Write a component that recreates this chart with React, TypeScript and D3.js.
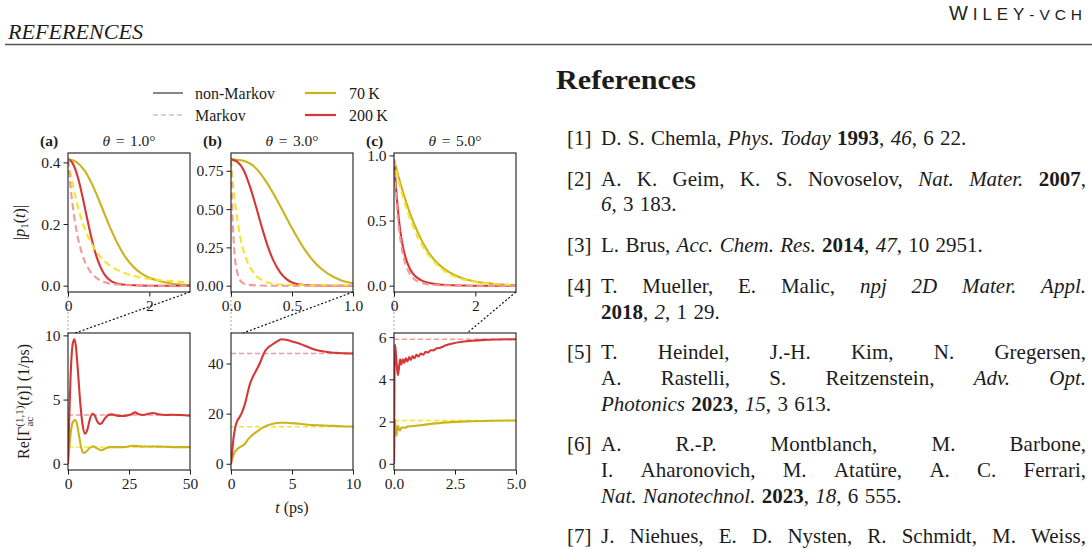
import React, { useRef, useEffect } from "react";
import * as d3 from "d3";

type Pt = [number, number];

// |p1(t)|, t in ps — non-Markov and Markov (M) for 70 K and 200 K
const pop70A: Pt[] = [[0, 0.41], [0.2, 0.402], [0.4, 0.375], [0.6, 0.327], [0.8, 0.265], [1.0, 0.2], [1.2, 0.142], [1.4, 0.095], [1.6, 0.062], [1.8, 0.04], [2.0, 0.026], [2.25, 0.015], [2.5, 0.008], [2.75, 0.004], [3, 0.002]];
const pop70AM: Pt[] = [[0, 0.41], [0.1, 0.34], [0.2, 0.278], [0.35, 0.207], [0.5, 0.157], [0.7, 0.11], [0.9, 0.079], [1.2, 0.052], [1.5, 0.036], [2.0, 0.022], [2.5, 0.015], [3.0, 0.011]];
const pop200A: Pt[] = [[0, 0.41], [0.1, 0.4], [0.2, 0.37], [0.3, 0.322], [0.4, 0.262], [0.5, 0.2], [0.6, 0.142], [0.7, 0.095], [0.8, 0.06], [0.9, 0.036], [1.0, 0.021], [1.2, 0.007], [1.5, 0.002], [2, 0], [3, 0]];
const pop200AM: Pt[] = [[0, 0.41], [0.1, 0.275], [0.2, 0.185], [0.3, 0.124], [0.4, 0.083], [0.5, 0.056], [0.6, 0.037], [0.8, 0.017], [1.0, 0.008], [1.3, 0.003], [1.6, 0.001], [2, 0], [3, 0]];

const pop70B: Pt[] = [[0, 0.825], [0.1, 0.815], [0.2, 0.77], [0.3, 0.665], [0.4, 0.525], [0.5, 0.375], [0.6, 0.24], [0.7, 0.14], [0.8, 0.075], [0.9, 0.036], [1.0, 0.016]];
const pop70BM: Pt[] = [[0, 0.825], [0.02, 0.64], [0.04, 0.5], [0.06, 0.39], [0.08, 0.3], [0.1, 0.235], [0.13, 0.165], [0.16, 0.115], [0.2, 0.07], [0.25, 0.038], [0.3, 0.02], [0.4, 0.008], [0.6, 0.003], [1.0, 0.001]];
const pop200B: Pt[] = [[0, 0.825], [0.05, 0.81], [0.1, 0.76], [0.15, 0.66], [0.2, 0.53], [0.25, 0.39], [0.3, 0.26], [0.35, 0.16], [0.4, 0.09], [0.45, 0.046], [0.5, 0.021], [0.6, 0.004], [0.8, 0], [1, 0]];
const pop200BM: Pt[] = [[0, 0.825], [0.01, 0.5], [0.02, 0.32], [0.03, 0.2], [0.045, 0.11], [0.06, 0.06], [0.08, 0.03], [0.1, 0.016], [0.13, 0.007], [0.2, 0.002], [0.3, 0], [1, 0]];

const pop70C: Pt[] = [[0, 0.97], [0.1, 0.85], [0.2, 0.74], [0.4, 0.55], [0.6, 0.4], [0.8, 0.28], [1.0, 0.195], [1.25, 0.125], [1.5, 0.08], [1.75, 0.05], [2.0, 0.032], [2.5, 0.013], [3.0, 0.005]];
const pop70CM: Pt[] = [[0, 0.97], [0.1, 0.82], [0.2, 0.7], [0.3, 0.6], [0.5, 0.43], [0.75, 0.28], [1.0, 0.18], [1.3, 0.1], [1.6, 0.058], [2.0, 0.028], [2.5, 0.011], [3.0, 0.004]];
const pop200C: Pt[] = [[0, 0.97], [0.05, 0.75], [0.1, 0.57], [0.15, 0.43], [0.2, 0.33], [0.3, 0.2], [0.4, 0.125], [0.5, 0.08], [0.65, 0.045], [0.8, 0.026], [1.0, 0.013], [1.3, 0.005], [1.7, 0.0015], [2.2, 0], [3, 0]];
const pop200CM: Pt[] = [[0, 0.97], [0.05, 0.7], [0.1, 0.5], [0.15, 0.37], [0.2, 0.27], [0.3, 0.15], [0.4, 0.085], [0.5, 0.05], [0.65, 0.025], [0.8, 0.012], [1.0, 0.005], [1.3, 0.0015], [1.7, 0], [3, 0]];

// Re Γ_ac^(1,1)(t) in 1/ps, non-Markov
const rate70A: Pt[] = [[0, 0], [0.5, 1.2], [1, 2.2], [1.5, 2.9], [2, 3.25], [2.9, 3.4], [3.8, 3.0], [4.5, 2.2], [5.5, 1.2], [6.4, 0.85], [7.5, 0.95], [9, 1.25], [10.4, 1.37], [11.5, 1.25], [13.5, 1.05], [15, 1.15], [17, 1.3], [20, 1.3], [23, 1.3], [26.5, 1.4], [30, 1.35], [35, 1.35], [40, 1.32], [45, 1.3], [50, 1.3]];
const rate200A: Pt[] = [[0, 0], [0.5, 3.5], [1, 6.5], [1.5, 8.5], [2, 9.4], [2.6, 9.7], [3.2, 9.2], [4, 7.4], [5, 4.8], [6, 3.0], [7, 2.35], [8, 2.7], [9, 3.5], [10, 3.9], [11, 3.75], [12, 3.3], [13, 3.1], [14, 3.2], [15, 3.5], [16.5, 3.8], [18, 3.85], [20, 3.75], [22, 3.72], [24, 3.75], [26, 3.85], [27.5, 4.0], [29, 3.85], [31, 3.8], [33, 3.9], [35, 3.95], [37, 3.85], [40, 3.8], [43, 3.82], [46, 3.8], [50, 3.75]];
const rate70B: Pt[] = [[0, 0], [0.15, 2.8], [0.3, 4.6], [0.5, 5.8], [0.72, 6.6], [0.95, 7.2], [1.13, 7.9], [1.4, 9.7], [1.68, 11.2], [1.95, 12.2], [2.23, 13.2], [2.6, 14.4], [2.92, 15.2], [3.4, 15.9], [4.0, 16.4], [4.5, 16.4], [5.0, 16.2], [5.6, 16.0], [6.3, 15.6], [7.05, 15.35], [8, 15.2], [9, 15.0], [10, 14.9]];
const rate200B: Pt[] = [[0, 0], [0.1, 5], [0.2, 10], [0.35, 14.5], [0.5, 17], [0.7, 18.6], [0.9, 20.5], [1.13, 23.7], [1.35, 28], [1.55, 31.8], [1.8, 34.8], [2.0, 36.6], [2.2, 38.5], [2.4, 40.5], [2.6, 43], [2.8, 45], [3.0, 46.2], [3.3, 47.3], [3.7, 48.6], [4.15, 49.7], [4.6, 49.4], [5.0, 48.8], [5.4, 48.3], [6.0, 47.2], [6.5, 46.2], [7.0, 45.4], [7.6, 44.8], [8.2, 44.4], [8.8, 44.2], [9.4, 44.05], [10, 44]];
const rate70C: Pt[] = [[0, 0], [0.02, 1.5], [0.04, 2.1], [0.07, 1.6], [0.1, 1.33], [0.14, 1.7], [0.17, 1.8], [0.21, 1.6], [0.25, 1.58], [0.3, 1.7], [0.37, 1.73], [0.45, 1.7], [0.55, 1.76], [0.7, 1.78], [0.9, 1.8], [1.2, 1.84], [1.6, 1.9], [2.2, 1.96], [3.0, 2.01], [4.0, 2.04], [5, 2.05]];
const rate200C: Pt[] = [[0, 0], [0.015, 3.2], [0.04, 5.65], [0.08, 5.2], [0.12, 4.6], [0.16, 4.2], [0.2, 4.5], [0.25, 4.95], [0.3, 4.7], [0.36, 4.95], [0.42, 4.78], [0.48, 5.0], [0.55, 4.85], [0.62, 5.05], [0.69, 4.92], [0.76, 5.1], [0.84, 5.0], [0.92, 5.16], [1.0, 5.08], [1.1, 5.22], [1.2, 5.17], [1.3, 5.3], [1.4, 5.27], [1.5, 5.38], [1.6, 5.37], [1.75, 5.47], [1.9, 5.5], [2.1, 5.6], [2.4, 5.7], [2.8, 5.78], [3.2, 5.83], [3.7, 5.87], [4.3, 5.89], [5, 5.9]];

// Markov rates are constant in time
const rateMarkov70 = [1.3, 14.8, 2.05];
const rateMarkov200 = [3.8, 44.0, 5.9];

const panelTags = ["(a)", "(b)", "(c)"];
const thetas = ["1.0", "3.0", "5.0"];
const popXMax = [3, 1, 3];
const popXTicks = [[0, 2], [0, 0.5, 1], [0, 2]];
const popXFormat = ["d", ".1f", "d"];
const popYTicks = [[0, 0.2, 0.4], [0, 0.25, 0.5, 0.75], [0, 0.5, 1]];
const popYFormat = [".1f", ".2f", ".1f"];
const rateXMax = [50, 10, 5];
const rateXTicks = [[0, 25, 50], [0, 5, 10], [0, 2.5, 5]];
const rateXFormat = ["d", "d", ".1f"];
const rateYTicks = [[0, 5, 10], [0, 20, 40], [0, 2, 4, 6]];

const legendKinds = ["non-Markov", "Markov"];
const legendTemps = ["70\u2009K", "200\u2009K"];

const refNumbers = ["[1]", "[2]", "[3]", "[4]", "[5]", "[6]", "[7]"];
// *italic*, **bold**
const refTexts: string[][] = [
  ["D. S. Chemla, *Phys. Today* **1993**, *46*, 6 22."],
  ["A. K. Geim, K. S. Novoselov, *Nat. Mater.* **2007**,", "*6*, 3 183."],
  ["L. Brus, *Acc. Chem. Res.* **2014**, *47*, 10 2951."],
  ["T. Mueller, E. Malic, *npj 2D Mater. Appl.*", "**2018**, *2*, 1 29."],
  ["T. Heindel, J.-H. Kim, N. Gregersen,", "A. Rastelli, S. Reitzenstein, *Adv. Opt.*", "*Photonics* **2023**, *15*, 3 613."],
  ["A. R.-P. Montblanch, M. Barbone,", "I. Aharonovich, M. Atatüre, A. C. Ferrari,", "*Nat. Nanotechnol.* **2023**, *18*, 6 555."],
  ["J. Niehues, E. D. Nysten, R. Schmidt, M. Weiss,"],
];
// how many leading lines of each entry are set flush to both margins
const refJustified = [0, 1, 0, 1, 2, 2, 1];

const FONT = "'Liberation Serif', 'Times New Roman', serif";
const INK = "#1c1c1c";
const C70 = "#c9b41d";
const C200 = "#d63636";
const C70M = "#f3e52a";
const C200M = "#f49a9a";

const panelLeft = [68, 231, 394];
const panelW = 122;
const popTop = 153;
const popBot = 292;
const rateTop = 333;
const rateBot = 470;
const TICK = 15.5;

interface Series {
  data: Pt[];
  color: string;
  width: number;
  dash?: string;
}

function padded(vals: number[]): [number, number] {
  const [lo, hi] = d3.extent(vals) as [number, number];
  const m = (hi - lo) * 0.05;
  return [lo - m, hi + m];
}

function drawPanel(
  root: any,
  key: string,
  left: number,
  top: number,
  bottom: number,
  xMax: number,
  xTicks: number[],
  xFmt: string,
  yTicks: number[],
  yFmt: string,
  series: Series[]
) {
  const x = d3.scaleLinear().domain([0, xMax]).range([left, left + panelW]);
  const y = d3
    .scaleLinear()
    .domain(padded(series.flatMap((s) => s.data.map((d) => d[1]))))
    .range([bottom, top]);

  const g = root.append("g");
  g.append("clipPath")
    .attr("id", key)
    .append("rect")
    .attr("x", left)
    .attr("y", top)
    .attr("width", panelW)
    .attr("height", bottom - top);

  const line = d3
    .line<Pt>()
    .x((d) => x(d[0]))
    .y((d) => y(d[1]))
    .curve(d3.curveMonotoneX);

  series.forEach((s) => {
    g.append("path")
      .attr("d", line(s.data))
      .attr("fill", "none")
      .attr("stroke", s.color)
      .attr("stroke-width", s.width)
      .attr("stroke-dasharray", s.dash ?? null)
      .attr("stroke-linejoin", "round")
      .attr("clip-path", `url(#${key})`);
  });

  const ax = g
    .append("g")
    .attr("transform", `translate(0,${bottom})`)
    .call(
      d3
        .axisBottom(x)
        .tickValues(xTicks)
        .tickFormat(d3.format(xFmt) as any)
        .tickSizeOuter(0)
        .tickSizeInner(4.5)
        .tickPadding(3.5)
    );
  const ay = g
    .append("g")
    .attr("transform", `translate(${left},0)`)
    .call(
      d3
        .axisLeft(y)
        .tickValues(yTicks)
        .tickFormat(d3.format(yFmt) as any)
        .tickSizeOuter(0)
        .tickSizeInner(4.5)
        .tickPadding(3)
    );
  [ax, ay].forEach((a) => {
    a.select(".domain").remove();
    a.attr("font-family", FONT).attr("font-size", TICK).attr("color", INK);
  });

  g.append("rect")
    .attr("x", left)
    .attr("y", top)
    .attr("width", panelW)
    .attr("height", bottom - top)
    .attr("fill", "none")
    .attr("stroke", INK)
    .attr("stroke-width", 1.1);

  return x;
}

type Tok = { text: string; style: string; space: boolean };

function tokenize(line: string): Tok[] {
  const parts = line.split(/(\*\*[^*]+\*\*|\*[^*]+\*)/).filter((s) => s.length);
  const toks: Tok[] = [];
  let pending = false;
  parts.forEach((p) => {
    let style = "n";
    let s = p;
    if (p.startsWith("**")) {
      style = "b";
      s = p.slice(2, -2);
    } else if (p.startsWith("*")) {
      style = "i";
      s = p.slice(1, -1);
    }
    s.split(" ").forEach((w, k) => {
      if (k > 0) pending = true;
      if (w.length) {
        toks.push({ text: w, style, space: pending && toks.length > 0 });
        pending = false;
      }
    });
  });
  return toks;
}

// places the words of one line, spreading them to both margins when justified
function setLine(g: any, line: string, x0: number, x1: number, y: number, justify: boolean, size: number) {
  const toks = tokenize(line);
  const nodes = toks.map((t) =>
    g
      .append("text")
      .attr("y", y)
      .attr("font-style", t.style === "i" ? "italic" : null)
      .attr("font-weight", t.style === "b" ? "bold" : null)
      .text(t.text)
  );
  const widths = nodes.map((n: any) => (n.node() as SVGTextElement).getComputedTextLength());
  const gaps = toks.filter((t, i) => i > 0 && t.space).length;
  const used = d3.sum(widths);
  const sp = justify && gaps ? (x1 - x0 - used) / gaps : size * 0.3;
  let x = x0;
  toks.forEach((t, i) => {
    if (i > 0 && t.space) x += sp;
    nodes[i].attr("x", x);
    x += widths[i];
  });
}

function drawHeader(svg: any) {
  svg.append("text")
    .attr("x", 8)
    .attr("y", 38.5)
    .attr("font-family", FONT)
    .attr("font-style", "italic")
    .attr("font-size", 20)
    .attr("textLength", 135)
    .attr("lengthAdjust", "spacingAndGlyphs")
    .attr("fill", INK)
    .text("REFERENCES");

  svg.append("line")
    .attr("x1", 5)
    .attr("x2", 1092)
    .attr("y1", 44.5)
    .attr("y2", 44.5)
    .attr("stroke", "#555")
    .attr("stroke-width", 1.5);

  const w = svg.append("text")
    .attr("x", 949)
    .attr("y", 20)
    .attr("font-family", "'Liberation Sans', Arial, sans-serif")
    .attr("fill", "#222")
    .attr("textLength", 133)
    .attr("lengthAdjust", "spacing");
  w.append("tspan").attr("font-size", 20).text("W");
  w.append("tspan").attr("font-size", 17).text("ILEY");
  w.append("tspan").attr("font-size", 15.5).text("-VCH");
}

function drawFigure(svg: any) {
  // legend
  const legY = [93, 115];
  const leg = svg.append("g").attr("font-family", FONT).attr("font-size", 16).attr("fill", INK);
  const kindStyle = [
    { color: "#868686", dash: null },
    { color: "#d2d2d2", dash: "5,3" },
  ];
  legendKinds.forEach((k, i) => {
    leg.append("line")
      .attr("x1", 153).attr("x2", 183)
      .attr("y1", legY[i]).attr("y2", legY[i])
      .attr("stroke", kindStyle[i].color)
      .attr("stroke-width", 2)
      .attr("stroke-dasharray", kindStyle[i].dash);
    leg.append("text").attr("x", 195).attr("y", legY[i]).attr("dy", "0.35em").text(k);
  });
  legendTemps.forEach((k, i) => {
    leg.append("line")
      .attr("x1", 305).attr("x2", 336)
      .attr("y1", legY[i]).attr("y2", legY[i])
      .attr("stroke", i === 0 ? C70 : C200)
      .attr("stroke-width", 2.2);
    leg.append("text").attr("x", 349).attr("y", legY[i]).attr("dy", "0.35em").text(k);
  });

  const popSets: Pt[][][] = [
    [pop70A, pop200A, pop70AM, pop200AM],
    [pop70B, pop200B, pop70BM, pop200BM],
    [pop70C, pop200C, pop70CM, pop200CM],
  ];
  const rateSets: Pt[][][] = [
    [rate70A, rate200A],
    [rate70B, rate200B],
    [rate70C, rate200C],
  ];

  panelLeft.forEach((left, i) => {
    // connectors from the population window down to the rate axis
    const xr = d3.scaleLinear().domain([0, rateXMax[i]]).range([left, left + panelW]);
    svg.append("line")
      .attr("x1", left).attr("y1", popBot)
      .attr("x2", xr(0)).attr("y2", rateTop)
      .attr("stroke", "#b8b8b8").attr("stroke-width", 1.2).attr("stroke-dasharray", "2,2");
    svg.append("line")
      .attr("x1", left + panelW).attr("y1", popBot)
      .attr("x2", xr(popXMax[i])).attr("y2", rateTop)
      .attr("stroke", "#111").attr("stroke-width", 1.2).attr("stroke-dasharray", "2,2");

    const [p70, p200, p70m, p200m] = popSets[i];
    drawPanel(svg, `pop${i}`, left, popTop, popBot, popXMax[i], popXTicks[i], popXFormat[i], popYTicks[i], popYFormat[i], [
      { data: p70, color: C70, width: 2.1 },
      { data: p200, color: C200, width: 2.1 },
      { data: p70m, color: C70M, width: 2.1, dash: "7,4" },
      { data: p200m, color: C200M, width: 2.1, dash: "7,4" },
    ]);

    const [r70, r200] = rateSets[i];
    const xm = rateXMax[i];
    drawPanel(svg, `rate${i}`, left, rateTop, rateBot, xm, rateXTicks[i], rateXFormat[i], rateYTicks[i], "d", [
      { data: [[0, rateMarkov70[i]], [xm, rateMarkov70[i]]], color: C70M, width: 1.4, dash: "5,3" },
      { data: [[0, rateMarkov200[i]], [xm, rateMarkov200[i]]], color: C200M, width: 1.4, dash: "5,3" },
      { data: r70, color: C70, width: 2.1 },
      { data: r200, color: C200, width: 2.1 },
    ]);

    // panel titles
    const t = svg.append("g").attr("font-family", FONT).attr("font-size", TICK).attr("fill", INK);
    t.append("text").attr("x", left - 28).attr("y", 146).attr("font-weight", "bold").text(panelTags[i]);
    const th = t.append("text").attr("x", left + panelW / 2).attr("y", 146).attr("text-anchor", "middle");
    th.append("tspan").attr("font-style", "italic").text("θ");
    th.append("tspan").attr("dx", 5.5).text("=");
    th.append("tspan").attr("dx", 5.5).text(`${thetas[i]}°`);
  });

  // axis labels
  const yl = svg.append("text")
    .attr("transform", `translate(25,${(popTop + popBot) / 2}) rotate(-90)`)
    .attr("text-anchor", "middle")
    .attr("font-family", FONT)
    .attr("font-size", 16)
    .attr("fill", INK);
  yl.append("tspan").text("|");
  yl.append("tspan").attr("font-style", "italic").text("p");
  yl.append("tspan").attr("font-size", 11).attr("dy", 3).text("1");
  yl.append("tspan").attr("dy", -3).text("(");
  yl.append("tspan").attr("font-style", "italic").text("t");
  yl.append("tspan").text(")|");

  const rl = svg.append("text")
    .attr("transform", `translate(29,${(rateTop + rateBot) / 2}) rotate(-90)`)
    .attr("text-anchor", "middle")
    .attr("font-family", FONT)
    .attr("font-size", 16)
    .attr("fill", INK);
  rl.append("tspan").text("Re[Γ");
  rl.append("tspan").attr("font-size", 11).attr("dy", -6).text("(1,1)");
  rl.append("tspan").attr("font-size", 11).attr("dx", -21).attr("dy", 10).text("ac");
  rl.append("tspan").attr("dx", 11).attr("dy", -4).text("(");
  rl.append("tspan").attr("font-style", "italic").text("t");
  rl.append("tspan").text(")] (1/ps)");

  const xl = svg.append("text")
    .attr("x", panelLeft[1] + panelW / 2)
    .attr("y", 513)
    .attr("text-anchor", "middle")
    .attr("font-family", FONT)
    .attr("font-size", 16)
    .attr("fill", INK);
  xl.append("tspan").attr("font-style", "italic").text("t");
  xl.append("tspan").text(" (ps)");
}

function drawReferences(svg: any) {
  const size = 21;
  const lead = 25.6;
  const gap = 40.8;
  const numX = 567;
  const bodyX = 601;
  const rightX = 1086;

  svg.append("text")
    .attr("x", 556)
    .attr("y", 88.5)
    .attr("font-family", FONT)
    .attr("font-weight", "bold")
    .attr("font-size", 27)
    .attr("textLength", 140)
    .attr("lengthAdjust", "spacingAndGlyphs")
    .attr("fill", INK)
    .text("References");

  const g = svg.append("g").attr("font-family", FONT).attr("font-size", size).attr("fill", INK);
  let y = 145;
  refTexts.forEach((lines, i) => {
    g.append("text").attr("x", numX).attr("y", y).text(refNumbers[i]);
    lines.forEach((ln, k) => {
      setLine(g, ln, bodyX, rightX, y + k * lead, k < refJustified[i], size);
    });
    y += (lines.length - 1) * lead + gap;
  });
}

export default function App() {
  const ref = useRef<SVGSVGElement>(null);

  useEffect(() => {
    const svg = d3.select(ref.current);
    svg.selectAll("*").remove();
    drawHeader(svg);
    drawFigure(svg);
    drawReferences(svg);
  }, []);

  return (
    <svg
      ref={ref}
      width={1092}
      height={550}
      style={{ position: "absolute", left: 0, top: 0, background: "#fff" }}
    />
  );
}
